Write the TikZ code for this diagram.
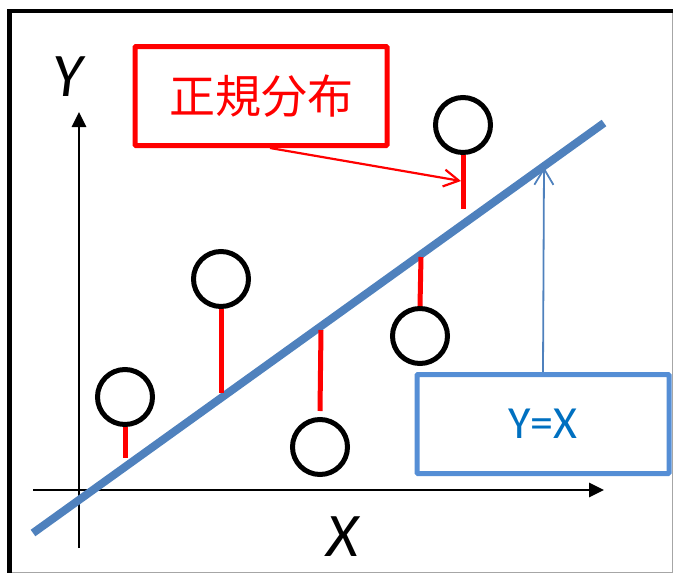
\documentclass[tikz,border=0pt]{standalone}
\usepackage{fontspec}
\setmainfont{Carlito}
\newfontfamily\jpfont{Noto Sans CJK JP}
\usetikzlibrary{arrows.meta}
\definecolor{lineblue}{HTML}{4F81BD}
\definecolor{boxblue}{HTML}{558ED5}
\definecolor{textblue}{HTML}{0070C0}

\begin{document}
\begin{tikzpicture}[x=1pt, y=-1pt, font=\fontsize{46}{50}\selectfont,
  dot/.style={circle, draw, line width=5pt, minimum size=55pt, inner sep=0pt},
  stem/.style={red, line width=5pt},
  axis/.style={line width=2.8pt, -{Triangle[length=15pt,width=14pt]}},
  callout/.style={line width=5pt, rounded corners=1pt, minimum width=252pt, minimum height=99pt}]
\useasboundingbox (0,0) rectangle (673,573);
% frame
\draw[gray!70, line width=1pt] (9,572.5) -- (672.5,572.5) -- (672.5,11);
\draw[line width=4.5pt] (9.5,573) -- (9.5,11) -- (673,11);
% axes
\coordinate (ybot) at (79,548);
\coordinate (ytop) at (79,112);
\coordinate (xleft) at (33,490);
\coordinate (xright) at (604,490);
\draw[axis] (ybot) -- (ytop);
\draw[axis] (xleft) -- (xright);
\node (ylab) at (68,77) {\fontsize{62}{66}\selectfont\itshape Y};
\node (xlab) at (343,537) {\fontsize{62}{66}\selectfont\itshape X};
% Y=X line
\coordinate (l0) at (33,533);
\coordinate (l1) at (604,123);
\draw[lineblue, line width=8pt] (l0) -- (l1);
% data points
\foreach \n/\x/\y in {1/125/397, 2/221/279, 3/320/447, 4/420/336, 5/463/125}
  \node[dot] (p\n) at (\x,\y) {};
\draw[stem] (p1.south) -- (125,458);
\draw[stem] (p2.south) -- (221,393);
\draw[stem] ([yshift=6pt]p3.north) -- (321,330);
\draw[stem] (p4.north) -- (421,257);
\draw[stem] (p5.south) -- (463,209);
% labels
\node[callout, draw=red, text=red] (nd) at (261,96) {\jpfont 正規分布};
\coordinate (ndtip) at (461,181);
\draw[red, line width=2.2pt, -{Straight Barb[length=15pt,width=17pt]}] ([xshift=9pt]nd.south) -- (ndtip);
\node[callout, draw=boxblue, text=textblue] (yx) at (543,424) {Y=X};
\coordinate (hit) at (544,167);
\draw[lineblue, line width=1.8pt, -{Straight Barb[length=16pt,width=19pt]}] (yx.north) -- (hit);
\end{tikzpicture}
\end{document}
